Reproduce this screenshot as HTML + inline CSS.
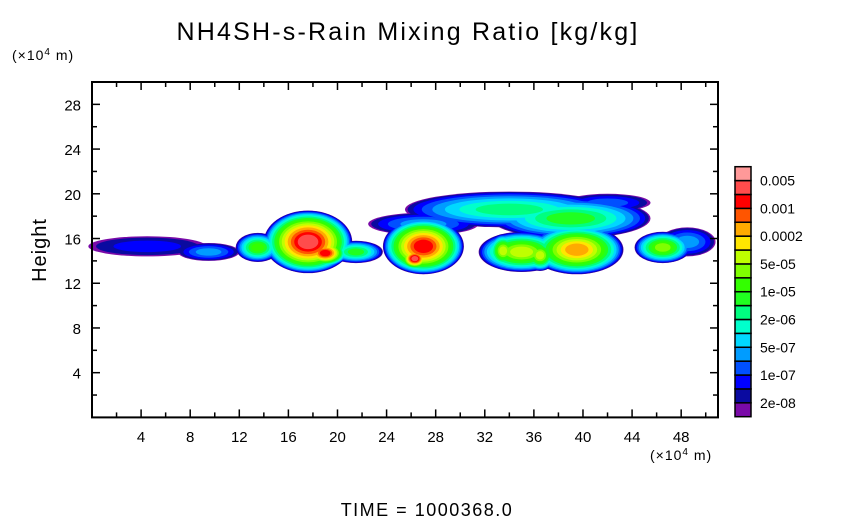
<!DOCTYPE html>
<html><head><meta charset="utf-8"><style>
body{margin:0;background:#fff;}
svg text{font-family:"Liberation Sans",sans-serif;fill:#000;}
</style></head><body>
<svg id="chart" width="854" height="519" viewBox="0 0 854 519" xmlns="http://www.w3.org/2000/svg">
<rect width="854" height="519" fill="#fff"/>
<text x="408" y="40" font-size="25" text-anchor="middle" letter-spacing="2.2">NH4SH-s-Rain Mixing Ratio [kg/kg]</text>
<text x="12" y="60" font-size="14" letter-spacing="1">(×10<tspan font-size="10" dy="-5">4</tspan><tspan dy="5"> m)</tspan></text>
<text x="46" y="250" font-size="20" text-anchor="middle" letter-spacing="1" transform="rotate(-90 46 250)">Height</text>
<text x="650" y="460" font-size="14" letter-spacing="1">(×10<tspan font-size="10" dy="-5">4</tspan><tspan dy="5"> m)</tspan></text>
<text x="427" y="516" font-size="18" text-anchor="middle" letter-spacing="1.5">TIME = 1000368.0</text>
<g id="field"></g>
<g id="axes"></g>
<g id="cbar"></g>
</svg>
<script>
// level colors (index 0 = lowest)
const levelColors = ["#7a0aa8","#0a0aa0","#0000ff","#0050ff","#009cff","#00d8ff","#00ffcc","#00ff80","#20ff20","#33ff00","#80ff00","#bfff00","#ffe600","#ffaa00","#ff5500","#ff0000","#ff4c4c","#ff9999"];
const cbarLabels = ["0.005","0.001","0.0002","5e-05","1e-05","2e-06","5e-07","1e-07","2e-08"];
const xTicks = [4,8,12,16,20,24,28,32,36,40,44,48];
const yTicks = [4,8,12,16,20,24,28];
// blobs: center x, center z, radius x, radius z, peak level
const blobX = [4.5, 9.5, 13.5, 17.6, 21.5, 27.0, 34, 27, 39, 35, 39.5, 46.5, 48.5, 42, 33.5, 36.5, 19, 26.3];
const blobZ = [15.3, 14.8, 15.2, 15.7, 14.8, 15.3, 18.6, 17.3, 17.8, 14.8, 15.0, 15.2, 15.7, 19.2, 14.9, 14.5, 14.7, 14.2];
const blobRX = [4.8, 2.5, 1.8, 3.6, 2.2, 3.3, 8.5, 4.5, 6.5, 3.5, 3.8, 2.3, 2.3, 3.5, 1.2, 1.3, 1.8, 1.2];
const blobRZ = [0.9, 0.8, 1.3, 2.8, 1.0, 2.5, 1.6, 1.0, 1.8, 1.8, 2.2, 1.4, 1.3, 0.8, 1.5, 1.4, 1.2, 1.0];
const blobPeak = [2, 4, 9, 16, 8, 15, 7, 4, 8, 11, 13, 10, 4, 3, 11, 11, 15, 16];

const X0=92, X1=718, Y0=417.4, YT=82, XMAX=51;
const sx = v => X0 + v*(X1-X0)/XMAX;
const sy = v => Y0 - v*(Y0-YT)/30;
const NS="http://www.w3.org/2000/svg";
function mk(tag, attrs, parent){const e=document.createElementNS(NS,tag);for(const k in attrs)e.setAttribute(k,attrs[k]);parent.appendChild(e);return e;}

const field=document.getElementById('field');
for(let k=0;k<=17;k++){
  for(let i=0;i<blobX.length;i++){
    if(blobPeak[i]<k) continue;
    const f = 1 - 0.85*Math.pow(k/(blobPeak[i]+1),1.7);
    const e=mk('ellipse',{cx:sx(blobX[i]),cy:sy(blobZ[i]),rx:(sx(blobRX[i])-X0)*f,ry:(Y0-sy(blobRZ[i]))*f,fill:levelColors[k]},field);
    
    
  }
}

const axes=document.getElementById('axes');
const frame=mk('rect',{x:X0,y:YT,width:X1-X0,height:Y0-YT,fill:'none',stroke:'#000','stroke-width':2},axes);


for(let v=2;v<XMAX;v+=2){
  const major=v%4===0, L=major?8:5;
  mk('line',{x1:sx(v),x2:sx(v),y1:Y0,y2:Y0-L,stroke:'#000','stroke-width':1.5},axes);
  mk('line',{x1:sx(v),x2:sx(v),y1:YT,y2:YT+L,stroke:'#000','stroke-width':1.5},axes);
}
for(let v=2;v<30;v+=2){
  const major=v%4===0, L=major?8:5;
  mk('line',{x1:X0,x2:X0+L,y1:sy(v),y2:sy(v),stroke:'#000','stroke-width':1.5},axes);
  mk('line',{x1:X1,x2:X1-L,y1:sy(v),y2:sy(v),stroke:'#000','stroke-width':1.5},axes);
}
xTicks.forEach(v=>{
  const t=mk('text',{x:sx(v),y:442,'font-size':15,'text-anchor':'middle'},axes);t.textContent=v;
  
  
});
yTicks.forEach(v=>{
  const t=mk('text',{x:81,y:sy(v)+6,'font-size':15,'text-anchor':'end'},axes);t.textContent=v;
  
  
});

const cbar=document.getElementById('cbar');
const cT=166.7, cB=416.7, n=levelColors.length, h=(cB-cT)/n;
for(let k=0;k<n;k++){
  const r=mk('rect',{x:735,y:cB-(k+1)*h,width:16,height:h,fill:levelColors[k],stroke:'#000','stroke-width':1.5},cbar);
  
  
}
cbarLabels.forEach((s,i)=>{
  const t=mk('text',{x:760,y:cT+h*(1+2*i)+5,'font-size':14},cbar);t.textContent=s;
  
  
});
</script>
</body></html>
